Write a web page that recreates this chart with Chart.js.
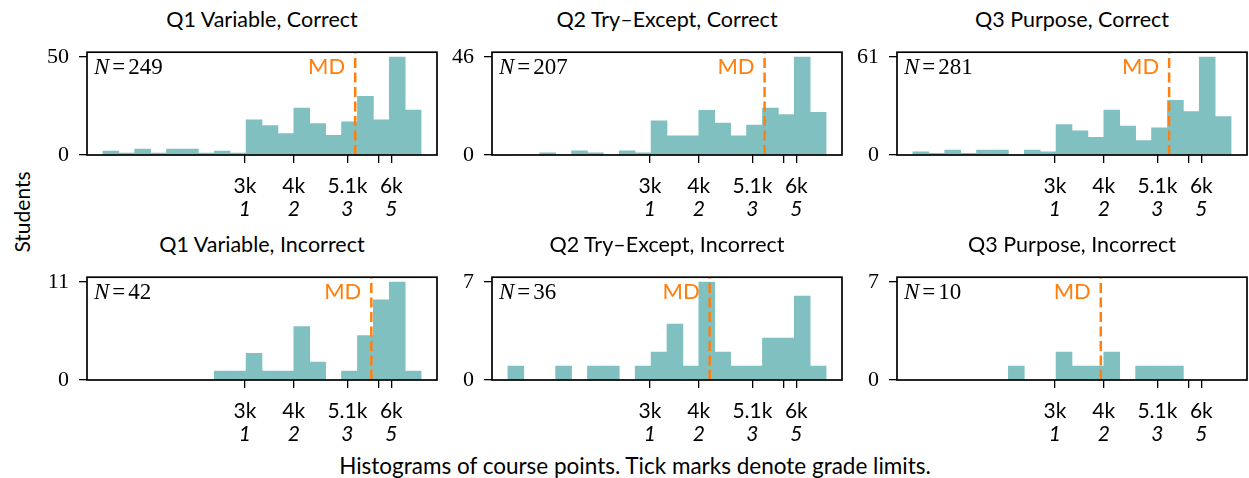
<!DOCTYPE html>
<html>
<head>
<meta charset="utf-8">
<script src="https://cdn.jsdelivr.net/npm/chart.js@4.4.0/dist/chart.umd.min.js"></script>
<style>
  body { margin: 0; background: #fff; width: 1249px; height: 478px; position: relative; overflow: hidden; font-family: Lato, sans-serif; color: #000; }
  canvas { position: absolute; }
  .title { position: absolute; width: 350px; text-align: center; font-size: 21.5px; line-height: 24px; white-space: nowrap; }
  .ylab { position: absolute; left: -38px; top: 200px; width: 120px; text-align: center; font-size: 21px; line-height: 24px; transform: rotate(-90deg); }
  .caption { position: absolute; left: 285px; top: 454px; width: 700px; text-align: center; font-size: 22.5px; line-height: 24px; }
</style>
</head>
<body>
<div class="ylab">Students</div>
<div class="caption">Histograms of course points. Tick marks denote grade limits.</div>
<script>
// Datos de los histogramas
const titles = [
  "Q1 Variable, Correct", "Q2 Try–Except, Correct", "Q3 Purpose, Correct",
  "Q1 Variable, Incorrect", "Q2 Try–Except, Incorrect", "Q3 Purpose, Incorrect"
];
const totals = [249, 207, 281, 42, 36, 10];
const yTops = [50, 46, 61, 11, 7, 7];
const medians = [5260, 5350, 5340, 5590, 4225, 3940];

const binStart = 90;
const binWidth = 326;
const counts = [
  [2, 1, 3, 1, 3, 3, 1, 2, 1, 18, 15, 11, 24, 16, 10, 17, 30, 18, 50, 23],
  [0, 0, 1, 0, 2, 1, 0, 2, 1, 16, 9, 9, 21, 15, 9, 14, 22, 19, 46, 20],
  [2, 1, 3, 1, 3, 3, 0, 3, 2, 19, 15, 11, 28, 18, 9, 17, 34, 27, 61, 24],
  [0, 0, 0, 0, 0, 0, 0, 1, 1, 3, 1, 1, 6, 2, 0, 1, 5, 9, 11, 1],
  [1, 0, 0, 1, 0, 1, 1, 0, 1, 2, 4, 1, 7, 2, 1, 1, 3, 3, 6, 1],
  [0, 0, 0, 0, 0, 0, 1, 0, 0, 2, 1, 1, 2, 0, 1, 1, 1, 0, 0, 0]
];

// Limites de nota (ticks del eje x)
const gradeLimits = [3000, 4000, 5100, 5750, 6000];
const pointLabels = ["3k", "4k", "5.1k", "", "6k"];
const gradeLabels = ["1", "2", "3", "", "5"];
const xMin = -236, xMax = 6936;

// Disposicion de los paneles
const colLefts = [87, 492, 897];
const rowTops = [43, 268];
const plotW = 350, plotH = 112;
const axisW = 60, padTop = 14, padRight = 4;
const xH1 = 40, xH2 = 30;

const teal = "#80c0c0";
const orange = "#ff7f0e";

// marco + textos N= y MD
const frameText = {
  id: "frameText",
  afterDraw(chart, args, opts) {
    const ctx = chart.ctx;
    const a = chart.chartArea;
    ctx.save();
    ctx.strokeStyle = "#000";
    ctx.lineWidth = 1.7;
    ctx.strokeRect(a.left, a.top, a.right - a.left, a.bottom - a.top);

    ctx.fillStyle = "#000";
    ctx.textBaseline = "alphabetic";
    ctx.textAlign = "left";
    let x = a.left + 7;
    ctx.font = 'italic 23px "Liberation Serif"';
    ctx.fillText("N", x, a.top + 22);
    x += ctx.measureText("N").width + 3;
    ctx.font = '23px "Liberation Serif"';
    ctx.fillText("=", x, a.top + 22);
    x += ctx.measureText("=").width + 3;
    ctx.fillText(String(opts.total), x, a.top + 22);

    const mx = chart.scales.xb.getPixelForValue(opts.median);
    ctx.font = "22px Lato";
    ctx.fillStyle = orange;
    ctx.textAlign = "right";
    ctx.fillText("MD", mx - 10, a.top + 22);
    ctx.restore();
  }
};

function makePanel(i) {
  const col = i % 3, row = Math.floor(i / 3);
  const left = colLefts[col] - axisW;
  const top = rowTops[row] - padTop;

  const t = document.createElement("div");
  t.className = "title";
  t.style.left = colLefts[col] + "px";
  t.style.top = (rowTops[row] - 36) + "px";
  t.textContent = titles[i];
  document.body.appendChild(t);

  const cv = document.createElement("canvas");
  cv.width = axisW + plotW + padRight;
  cv.height = padTop + plotH + xH1 + xH2;
  cv.style.left = left + "px";
  cv.style.top = top + "px";
  document.body.appendChild(cv);

  const yTop = yTops[i];
  const yMax = yTop * 1.05;
  const bars = counts[i].map((c, k) => ({ x: binStart + (k + 0.5) * binWidth, y: c }));

  new Chart(cv.getContext("2d"), {
    type: "bar",
    data: {
      datasets: [
        {
          type: "line",
          data: [{ x: medians[i], y: 0 }, { x: medians[i], y: yMax }],
          xAxisID: "xb", yAxisID: "y",
          borderColor: orange, borderWidth: 2.5, borderDash: [10, 4.5],
          pointRadius: 0, fill: false, order: 0
        },
        {
          type: "bar",
          data: bars,
          xAxisID: "xb", yAxisID: "y",
          backgroundColor: teal, borderWidth: 0,
          barPercentage: 1, categoryPercentage: 1, order: 1
        }
      ]
    },
    options: {
      responsive: false,
      animation: false,
      devicePixelRatio: 1,
      layout: { padding: { top: padTop, right: padRight, left: 0, bottom: 0 } },
      plugins: {
        legend: { display: false },
        tooltip: { enabled: false },
        frameText: { total: totals[i], median: medians[i] }
      },
      scales: {
        xb: {
          type: "linear", display: false, min: xMin, max: xMax, offset: false,
          grid: { offset: false },
          afterBuildTicks: s => { s.ticks = [{ value: xMin }, { value: xMax }]; }
        },
        x: {
          type: "linear", position: "bottom", weight: 0, min: xMin, max: xMax, offset: false,
          afterBuildTicks: s => { s.ticks = gradeLimits.map(v => ({ value: v })); },
          afterFit: s => { s.height = xH1; },
          ticks: {
            autoSkip: false, maxRotation: 0, minRotation: 0, padding: 11,
            font: { family: "Lato", size: 21 }, color: "#000",
            callback: (v, k) => pointLabels[k]
          },
          grid: { drawOnChartArea: false, offset: false, tickLength: 8, color: "#000", lineWidth: 1.3 },
          border: { display: false }
        },
        x2: {
          type: "linear", position: "bottom", weight: 1, min: xMin, max: xMax, offset: false,
          afterBuildTicks: s => { s.ticks = gradeLimits.map(v => ({ value: v })); },
          afterFit: s => { s.height = xH2; },
          ticks: {
            autoSkip: false, maxRotation: 0, minRotation: 0, padding: 2,
            font: { family: "Lato", size: 21, style: "italic" }, color: "#000",
            callback: (v, k) => gradeLabels[k]
          },
          grid: { display: false, drawTicks: false, offset: false },
          border: { display: false }
        },
        y: {
          type: "linear", min: 0, max: yMax,
          afterBuildTicks: s => { s.ticks = [{ value: 0 }, { value: yTop }]; },
          afterFit: s => { s.width = axisW; },
          ticks: {
            padding: 10, font: { family: '"Liberation Serif"', size: 22 }, color: "#000",
            callback: v => String(v)
          },
          grid: { drawOnChartArea: false, tickLength: 8, color: "#000", lineWidth: 1.3 },
          border: { display: false }
        }
      }
    },
    plugins: [frameText]
  });
}

for (let i = 0; i < 6; i++) makePanel(i);
</script>
</body>
</html>
